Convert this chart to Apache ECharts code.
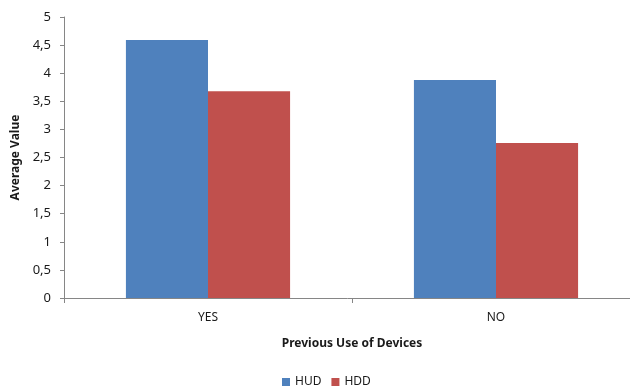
<!DOCTYPE html>
<html>
<head>
<meta charset="utf-8">
<script src="https://cdn.jsdelivr.net/npm/echarts@6/dist/echarts.min.js"></script>
<style>
  html, body { margin: 0; padding: 0; background: #fff; }
  #chart { width: 630px; height: 388px; }
</style>
</head>
<body>
<div id="chart"></div>
<script>
// Average rating by previous device use
const categories = ['YES', 'NO'];
const hudValues = [4.59, 3.88];
const hddValues = [3.68, 2.76];
const seriesNames = ['HUD', 'HDD'];

const chart = echarts.init(document.getElementById('chart'));
const font = '"Noto Sans", "Open Sans", sans-serif';
const axisColor = '#868686';
const textColor = '#1a1a1a';

chart.setOption({
  animation: false,
  textStyle: { fontFamily: font },
  // the plot runs a little past the right edge of the canvas
  grid: { left: 64, width: 576, top: 17, bottom: 90, containLabel: false, outerBoundsMode: 'none' },
  legend: {
    data: seriesNames,
    top: 371,
    left: 277,
    itemWidth: 8,
    itemHeight: 8,
    itemGap: 10,
    icon: 'rect',
    textStyle: { fontFamily: font, fontSize: 12, color: textColor }
  },
  xAxis: {
    type: 'category',
    data: categories,
    name: 'Previous Use of Devices',
    nameLocation: 'middle',
    nameGap: 40,
    nameTextStyle: { fontFamily: font, fontSize: 12, fontWeight: 'bold', color: textColor },
    axisLine: { lineStyle: { color: axisColor, width: 1 } },
    axisTick: { show: true, length: 5, lineStyle: { color: axisColor } },
    axisLabel: { fontFamily: font, fontSize: 12, color: textColor, margin: 14 }
  },
  yAxis: {
    type: 'value',
    min: 0,
    max: 5,
    interval: 0.5,
    name: 'Average Value',
    nameLocation: 'middle',
    nameGap: 36,
    nameTextStyle: { fontFamily: font, fontSize: 12, fontWeight: 'bold', color: textColor },
    axisLine: { show: true, lineStyle: { color: axisColor, width: 1 } },
    axisTick: { show: true, length: 4, lineStyle: { color: axisColor } },
    splitLine: { show: false },
    axisLabel: {
      fontFamily: font, fontSize: 13, color: textColor, margin: 13,
      formatter: v => String(v).replace('.', ',')
    }
  },
  series: [
    {
      name: seriesNames[0],
      type: 'bar',
      data: hudValues,
      itemStyle: { color: '#4F81BD' },
      barGap: '0%',
      barCategoryGap: '43%'
    },
    {
      name: seriesNames[1],
      type: 'bar',
      data: hddValues,
      itemStyle: { color: '#C0504D' }
    }
  ]
});
</script>
</body>
</html>
